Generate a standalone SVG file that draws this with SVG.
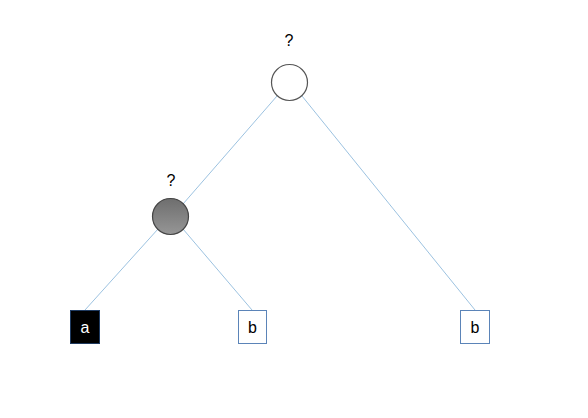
<svg xmlns="http://www.w3.org/2000/svg" width="588" height="418" viewBox="0 0 588 418">
<defs>
<linearGradient id="g" x1="0" y1="0" x2="0" y2="1">
<stop offset="0" stop-color="#6e6e6e"/>
<stop offset="1" stop-color="#969696"/>
</linearGradient>
</defs>
<style>
.e{stroke:#9cc2e0;stroke-width:1;fill:none}
.t{font-family:"Liberation Sans",Arial,sans-serif;font-size:16px;text-anchor:middle}
.box{fill:#fff;stroke:#5b84b8;stroke-width:1}
</style>
<rect width="588" height="418" fill="#fff"/>
<g id="connectors">
<line class="e" x1="277" y1="96" x2="183" y2="204"/>
<line class="e" x1="302" y1="96" x2="475" y2="310"/>
<line class="e" x1="158" y1="229" x2="85" y2="310"/>
<line class="e" x1="183" y1="229" x2="252" y2="310"/>
</g>
<g id="root">
<circle cx="289.5" cy="82.5" r="18" fill="#fff" stroke="#555" stroke-width="1.2"/>
<text class="t" x="289" y="46">?</text>
</g>
<g id="inner">
<circle cx="170.5" cy="216.5" r="18" fill="url(#g)" stroke="#444" stroke-width="1.2"/>
<text class="t" x="171" y="186">?</text>
</g>
<g id="leaf-a">
<rect x="70.5" y="310.5" width="29" height="33" fill="#000" stroke="#1f3a5f"/>
<text class="t" x="85" y="333" fill="#fff">a</text>
</g>
<g id="leaf-b1">
<rect class="box" x="238.5" y="310.5" width="28" height="33"/>
<text class="t" x="252.5" y="333">b</text>
</g>
<g id="leaf-b2">
<rect class="box" x="460.5" y="310.5" width="29" height="33"/>
<text class="t" x="475" y="333">b</text>
</g>
</svg>
